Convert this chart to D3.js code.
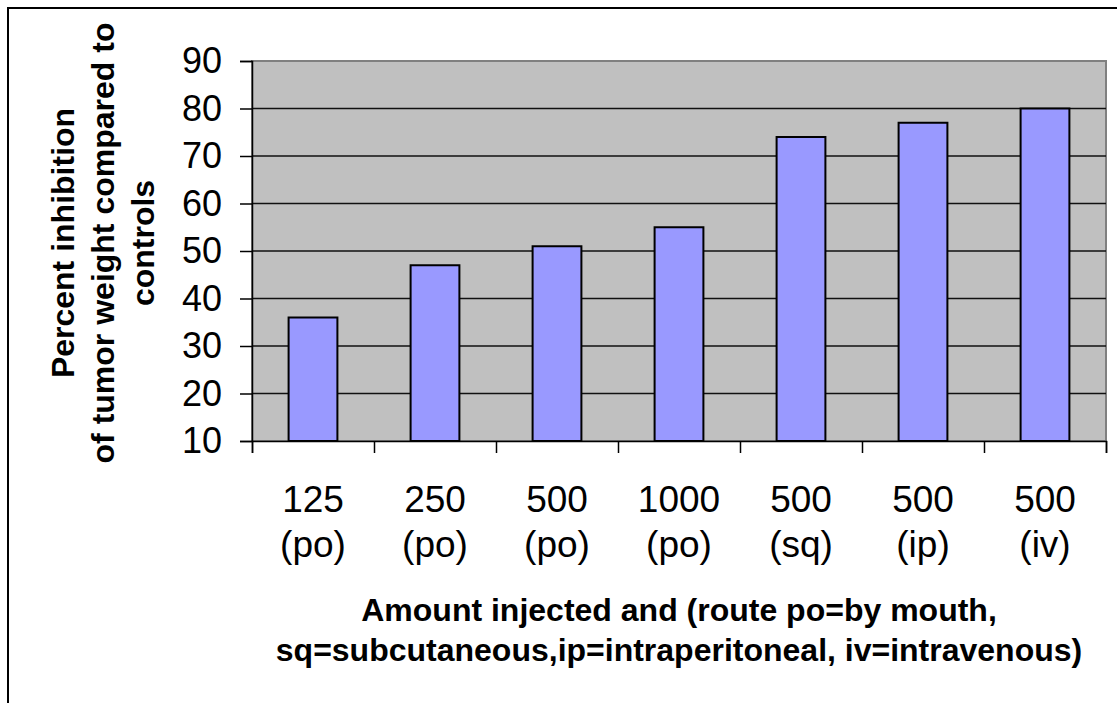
<!DOCTYPE html>
<html>
<head>
<meta charset="utf-8">
<script src="https://cdn.jsdelivr.net/npm/d3@7"></script>
<style>
  body { margin: 0; background: #fff; }
  svg { display: block; font-family: "Liberation Sans", Arial, sans-serif; }
</style>
</head>
<body>
<div id="chart"></div>
<script>
// data
const amounts = ["125", "250", "500", "1000", "500", "500", "500"];
const routes = ["(po)", "(po)", "(po)", "(po)", "(sq)", "(ip)", "(iv)"];
const inhibition = [36, 47, 51, 55, 74, 77, 80];
const yTicks = [10, 20, 30, 40, 50, 60, 70, 80, 90];
const yTitle = ["Percent inhibition", "of tumor weight compared to", "controls"];
const xTitle = ["Amount injected and (route po=by mouth,", "sq=subcutaneous,ip=intraperitoneal, iv=intravenous)"];

const W = 1117, H = 703;
const plot = { left: 252, right: 1106, top: 61, bottom: 441 };

const svg = d3.select("#chart").append("svg")
  .attr("width", W)
  .attr("height", H);

// outer frame (runs off right and bottom)
svg.append("rect")
  .attr("x", 8).attr("y", 8)
  .attr("width", W).attr("height", H)
  .attr("fill", "none")
  .attr("stroke", "#000")
  .attr("stroke-width", 2);

const idx = d3.range(amounts.length);

const x = d3.scaleBand()
  .domain(idx)
  .range([plot.left, plot.right])
  .paddingInner(0.6)
  .paddingOuter(0.3);

// boundaries for the category ticks
const xEdge = d3.scaleLinear()
  .domain([0, amounts.length])
  .range([plot.left, plot.right]);

const y = d3.scaleLinear()
  .domain([10, 90])
  .range([plot.bottom, plot.top]);

// plot background
svg.append("rect")
  .attr("x", plot.left).attr("y", plot.top)
  .attr("width", plot.right - plot.left)
  .attr("height", plot.bottom - plot.top)
  .attr("fill", "#c0c0c0")
  .attr("stroke", "#808080")
  .attr("stroke-width", 2);

// gridlines
svg.append("g")
  .selectAll("line")
  .data(yTicks.filter(d => d > 10 && d < 90))
  .join("line")
  .attr("x1", plot.left).attr("x2", plot.right)
  .attr("y1", d => y(d)).attr("y2", d => y(d))
  .attr("stroke", "#111")
  .attr("stroke-width", 1.5);

// bars
svg.append("g")
  .selectAll("rect")
  .data(inhibition)
  .join("rect")
  .attr("x", (d, i) => x(i))
  .attr("y", d => y(d))
  .attr("width", x.bandwidth())
  .attr("height", d => y(10) - y(d))
  .attr("fill", "#9999ff")
  .attr("stroke", "#000")
  .attr("stroke-width", 2);

// y axis
const yAxis = svg.append("g")
  .attr("transform", `translate(${plot.left},0)`)
  .call(d3.axisLeft(y).tickValues(yTicks).tickSize(12).tickPadding(18));
yAxis.selectAll("text")
  .attr("font-size", 36)
  .attr("fill", "#000")
  .attr("font-family", "Liberation Sans, Arial, sans-serif");
yAxis.selectAll("line, path").attr("stroke", "#000").attr("stroke-width", 1.5);

// x axis
const xAxis = svg.append("g")
  .attr("transform", `translate(0,${plot.bottom})`)
  .call(d3.axisBottom(xEdge).tickValues(d3.range(amounts.length + 1)).tickFormat("").tickSize(12));
xAxis.selectAll("line, path").attr("stroke", "#000").attr("stroke-width", 1.5);

// category labels, two lines
const labels = svg.append("g")
  .attr("font-size", 37)
  .attr("text-anchor", "middle");
labels.selectAll("text.amt")
  .data(amounts)
  .join("text")
  .attr("class", "amt")
  .attr("x", (d, i) => x(i) + x.bandwidth() / 2)
  .attr("y", 512)
  .text(d => d);
labels.selectAll("text.route")
  .data(routes)
  .join("text")
  .attr("class", "route")
  .attr("x", (d, i) => x(i) + x.bandwidth() / 2)
  .attr("y", 557)
  .text(d => d);

// x axis title
svg.append("g")
  .attr("font-size", 32)
  .attr("font-weight", "bold")
  .attr("text-anchor", "middle")
  .selectAll("text")
  .data(xTitle)
  .join("text")
  .attr("x", (plot.left + plot.right) / 2)
  .attr("y", (d, i) => 621 + i * 40)
  .text(d => d);

// y axis title, rotated
const yMid = (plot.top + plot.bottom) / 2;
svg.append("g")
  .attr("font-size", 32)
  .attr("font-weight", "bold")
  .attr("text-anchor", "middle")
  .selectAll("text")
  .data(yTitle)
  .join("text")
  .attr("transform", (d, i) => `translate(${74 + i * 40},${yMid - 8}) rotate(-90)`)
  .text(d => d);
</script>
</body>
</html>
